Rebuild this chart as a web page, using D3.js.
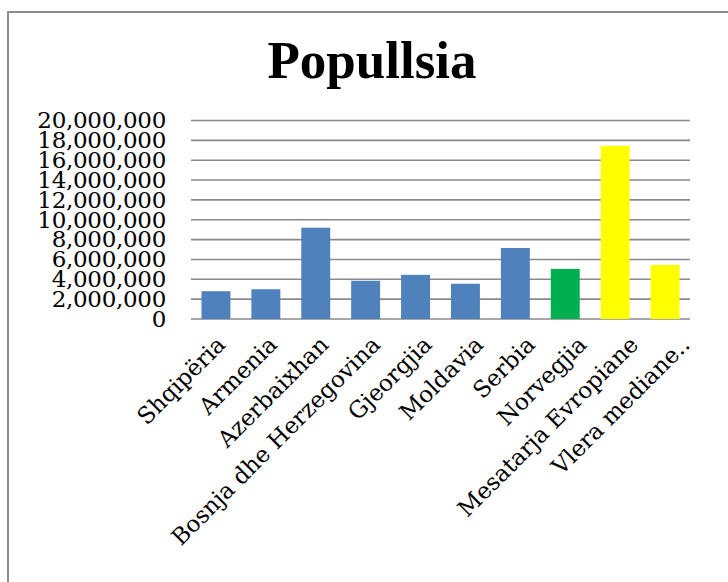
<!DOCTYPE html>
<html>
<head>
<meta charset="utf-8">
<script src="https://cdn.jsdelivr.net/npm/d3@7"></script>
<style>
  html, body { margin: 0; padding: 0; background: #ffffff; }
  svg { display: block; }
</style>
</head>
<body>
<script>
const categories = ["Shqipëria", "Armenia", "Azerbaixhan", "Bosnja dhe Herzegovina", "Gjeorgjia", "Moldavia", "Serbia", "Norvegjia", "Mesatarja Evropiane", "Vlera mediane.."];
const values = [2800000, 3000000, 9200000, 3850000, 4450000, 3550000, 7150000, 5050000, 17450000, 5450000];
const barColors = ["#4F81BD", "#4F81BD", "#4F81BD", "#4F81BD", "#4F81BD", "#4F81BD", "#4F81BD", "#00B050", "#FFFF00", "#FFFF00"];
const yTicks = [0, 2000000, 4000000, 6000000, 8000000, 10000000, 12000000, 14000000, 16000000, 18000000, 20000000];
const title = "Popullsia";

const W = 728, H = 582;
const svg = d3.select("body").append("svg").attr("width", W).attr("height", H);

// chart frame
svg.append("rect").attr("x", 8).attr("y", 12).attr("width", 740).attr("height", 600)
  .attr("fill", "#fff").attr("stroke", "#8c8c8c").attr("stroke-width", 2);

// title
svg.append("text").attr("x", 372).attr("y", 78).attr("text-anchor", "middle")
  .attr("font-family", "'Liberation Serif', serif").attr("font-weight", "bold")
  .attr("font-size", 53).attr("fill", "#000").text(title);

const x = d3.scaleBand().domain(categories).range([191, 690]).paddingInner(0.42).paddingOuter(0.21);
const xLab = d3.scaleBand().domain(categories).range([193, 709]);
const y = d3.scaleLinear().domain([0, 20000000]).range([319, 120.5]);
const fmt = d3.format(",");

// gridlines
svg.append("g").selectAll("line").data(yTicks).join("line")
  .attr("x1", 191).attr("x2", 690)
  .attr("y1", d => y(d)).attr("y2", d => y(d))
  .attr("stroke", "#8a8a8a").attr("stroke-width", 1.6);

// y axis labels
const yAxis = d3.axisLeft(y).tickValues(yTicks).tickFormat(fmt).tickSize(0).tickPadding(0);
const gy = svg.append("g").attr("transform", "translate(166,0)").call(yAxis);
gy.select(".domain").remove();
gy.selectAll("text").attr("font-family", "'DejaVu Serif', serif").attr("font-size", 23)
  .attr("letter-spacing", "-0.3px").attr("fill", "#000");

// bars
svg.append("g").selectAll("rect").data(categories).join("rect")
  .attr("x", d => x(d)).attr("width", x.bandwidth())
  .attr("y", (d, i) => y(values[i])).attr("height", (d, i) => y(0) - y(values[i]))
  .attr("fill", (d, i) => barColors[i]);

// x labels
svg.append("g").selectAll("text").data(categories).join("text")
  .attr("transform", d => `translate(${xLab(d) + xLab.bandwidth() / 2 + 8},346) rotate(-45)`)
  .attr("text-anchor", "end")
  .attr("font-family", "'DejaVu Serif', serif").attr("font-size", 23).attr("fill", "#000")
  .text(d => d);
</script>
</body>
</html>
